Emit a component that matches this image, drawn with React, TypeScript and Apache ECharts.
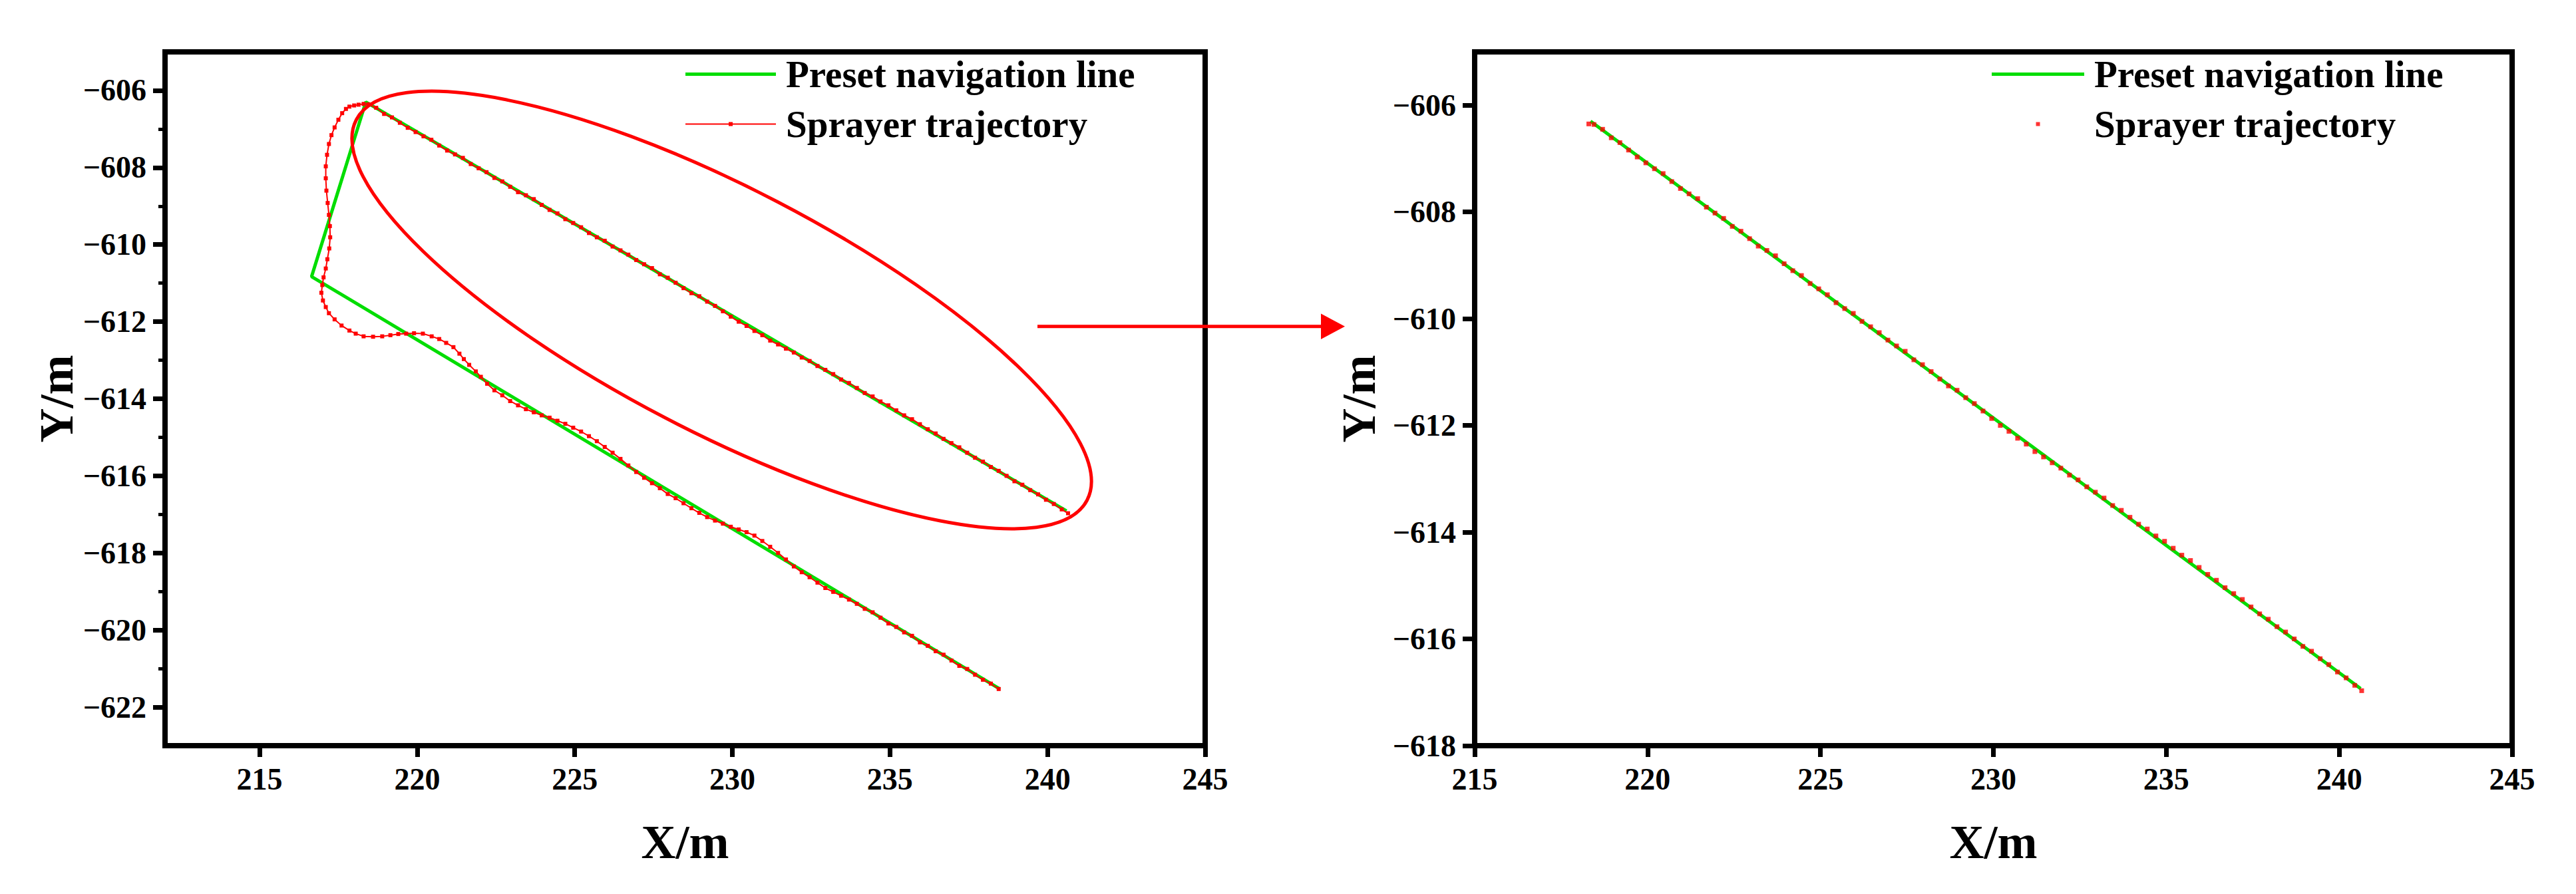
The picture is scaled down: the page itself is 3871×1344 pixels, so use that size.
import React, { useEffect, useRef } from 'react';
import * as echarts from 'echarts';

// ---------- data ----------
// Preset navigation line (left panel)
const navX = [238.49, 216.65, 218.37, 240.60];
const navY = [-621.53, -610.83, -606.30, -616.91];
// Preset navigation line (right, zoomed panel)
const zoomNavX = [218.35, 240.62];
const zoomNavY = [-606.30, -616.93];

// Sprayer trajectory: lower straight pass
const lowerX = [238.45, 238.20, 237.95, 237.70, 237.45, 237.20, 236.95, 236.70, 236.45, 236.20, 235.95, 235.70, 235.45, 235.20, 234.95, 234.70, 234.45, 234.20, 233.95, 233.70, 233.45, 233.20, 232.95, 232.70, 232.45, 232.20, 231.95, 231.70, 231.45, 231.20, 230.95, 230.70, 230.45, 230.20, 229.95, 229.70, 229.45, 229.20, 228.95, 228.70, 228.45, 228.20, 227.95, 227.70, 227.45, 227.20, 226.95, 226.70, 226.45, 226.20, 225.95, 225.70, 225.45, 225.20, 224.95, 224.70, 224.45, 224.20, 223.95, 223.70, 223.45, 223.20, 222.95, 222.70];
const lowerY = [-621.53, -621.39, -621.29, -621.16, -621.01, -620.93, -620.79, -620.64, -620.55, -620.41, -620.32, -620.15, -620.06, -619.92, -619.83, -619.68, -619.54, -619.45, -619.32, -619.21, -619.11, -619.01, -618.91, -618.77, -618.63, -618.50, -618.35, -618.17, -618.00, -617.84, -617.69, -617.55, -617.46, -617.39, -617.32, -617.24, -617.16, -617.07, -616.96, -616.84, -616.71, -616.58, -616.47, -616.32, -616.19, -616.05, -615.90, -615.73, -615.56, -615.40, -615.25, -615.10, -614.97, -614.85, -614.75, -614.65, -614.57, -614.49, -614.43, -614.35, -614.27, -614.17, -614.06, -613.91];

// Sprayer trajectory: turning section
const turnX = [222.45, 222.22, 222.02, 221.86, 221.65, 221.48, 221.34, 221.15, 220.92, 220.70, 220.46, 220.18, 219.90, 219.65, 219.40, 219.15, 218.89, 218.60, 218.30, 218.05, 217.85, 217.60, 217.38, 217.20, 217.10, 217.01, 216.96, 216.99, 217.03, 217.10, 217.15, 217.21, 217.24, 217.23, 217.20, 217.16, 217.12, 217.10, 217.10, 217.14, 217.20, 217.28, 217.38, 217.50, 217.62, 217.74, 217.85, 218.00, 218.14];
const turnY = [-613.78, -613.61, -613.43, -613.29, -613.12, -612.97, -612.83, -612.66, -612.55, -612.45, -612.38, -612.31, -612.30, -612.31, -612.32, -612.35, -612.38, -612.39, -612.38, -612.31, -612.23, -612.10, -611.94, -611.78, -611.62, -611.45, -611.25, -611.05, -610.85, -610.62, -610.38, -610.10, -609.81, -609.52, -609.23, -608.92, -608.60, -608.28, -607.97, -607.67, -607.39, -607.16, -606.96, -606.76, -606.59, -606.48, -606.42, -606.39, -606.37];

// Sprayer trajectory: upper straight pass (also the zoomed panel)
const upperX = [218.30, 218.45, 218.70, 218.95, 219.20, 219.45, 219.70, 219.95, 220.20, 220.45, 220.70, 220.95, 221.20, 221.45, 221.70, 221.95, 222.20, 222.45, 222.70, 222.95, 223.20, 223.45, 223.70, 223.95, 224.20, 224.45, 224.70, 224.95, 225.20, 225.45, 225.70, 225.95, 226.20, 226.45, 226.70, 226.95, 227.20, 227.45, 227.70, 227.95, 228.20, 228.45, 228.70, 228.95, 229.20, 229.45, 229.70, 229.95, 230.20, 230.45, 230.70, 230.95, 231.20, 231.45, 231.70, 231.95, 232.20, 232.45, 232.70, 232.95, 233.20, 233.45, 233.70, 233.95, 234.20, 234.45, 234.70, 234.95, 235.20, 235.45, 235.70, 235.95, 236.20, 236.45, 236.70, 236.95, 237.20, 237.45, 237.70, 237.95, 238.20, 238.45, 238.70, 238.95, 239.20, 239.45, 239.70, 239.95, 240.20, 240.45, 240.65];
const upperY = [-606.35, -606.36, -606.45, -606.61, -606.70, -606.84, -606.97, -607.08, -607.19, -607.28, -607.43, -607.56, -607.66, -607.75, -607.91, -608.02, -608.12, -608.27, -608.36, -608.50, -608.64, -608.72, -608.82, -608.97, -609.10, -609.19, -609.34, -609.44, -609.55, -609.70, -609.81, -609.90, -610.05, -610.15, -610.26, -610.40, -610.51, -610.61, -610.77, -610.86, -610.99, -611.13, -611.26, -611.34, -611.48, -611.59, -611.73, -611.87, -612.00, -612.11, -612.24, -612.35, -612.49, -612.59, -612.70, -612.80, -612.93, -613.02, -613.15, -613.25, -613.36, -613.50, -613.59, -613.72, -613.85, -613.94, -614.07, -614.17, -614.30, -614.43, -614.53, -614.66, -614.79, -614.90, -615.04, -615.15, -615.26, -615.40, -615.53, -615.63, -615.77, -615.87, -616.00, -616.14, -616.23, -616.37, -616.48, -616.62, -616.73, -616.87, -616.97];

// Axis ticks
const leftXTicks = [215, 220, 225, 230, 235, 240, 245];
const leftYTicks = [-622, -620, -618, -616, -614, -612, -610, -608, -606];
const leftYMinor = [-621, -619, -617, -615, -613, -611, -609, -607];
const rightXTicks = [215, 220, 225, 230, 235, 240, 245];
const rightYTicks = [-618, -616, -614, -612, -610, -608, -606];

const legendText: Record<string, string> = {
  nav: 'Preset navigation line',
  traj: 'Sprayer trajectory',
  zoomNav: 'Preset navigation line',
  zoomTraj: 'Sprayer trajectory',
};

// ---------- helpers ----------
const zip = (xs: number[], ys: number[]) => {
  const n = Math.min(xs.length, ys.length);
  const out: number[][] = [];
  for (let i = 0; i < n; i++) out.push([xs[i], ys[i]]);
  return out;
};

const FONT = "'Liberation Serif', 'Times New Roman', Times, serif";
const GREEN = '#00dd00';
const RED = '#ff0000';
const fmt = (v: number) => String(v).replace('-', '\u2212');

const labelStyle = {
  fontFamily: FONT,
  fontWeight: 'bold' as const,
  fontSize: 46,
  lineHeight: 46,
  color: '#000',
};
const nameStyle = {
  fontFamily: FONT,
  fontWeight: 'bold' as const,
  fontSize: 72,
  lineHeight: 72,
  color: '#000',
};

function xAxisCfg(gridIndex: number, min: number, max: number, ticks: number[]) {
  return {
    type: 'value',
    gridIndex,
    min,
    max,
    position: 'bottom',
    name: 'X/m',
    nameLocation: 'middle',
    nameGap: 109,
    nameTextStyle: nameStyle,
    axisLine: { show: true, onZero: false, lineStyle: { color: '#000', width: 8 } },
    axisTick: { show: true, inside: false, length: 17, lineStyle: { color: '#000', width: 7 }, customValues: ticks },
    axisLabel: { show: true, margin: 27, ...labelStyle, customValues: ticks, formatter: fmt },
    splitLine: { show: false },
  };
}

function yAxisCfg(gridIndex: number, min: number, max: number, ticks: number[], gap: number) {
  return {
    type: 'value',
    gridIndex,
    min,
    max,
    position: 'left',
    name: 'Y/m',
    nameLocation: 'middle',
    nameGap: gap,
    nameTextStyle: nameStyle,
    axisLine: { show: true, onZero: false, lineStyle: { color: '#000', width: 8 } },
    axisTick: { show: true, inside: false, length: 18, lineStyle: { color: '#000', width: 7 }, customValues: ticks },
    axisLabel: { show: true, margin: 28, ...labelStyle, customValues: ticks, formatter: fmt },
    splitLine: { show: false },
  };
}

const legendTextStyle = {
  fontFamily: FONT,
  fontWeight: 'bold' as const,
  fontSize: 57,
  lineHeight: 57,
  color: '#000',
  padding: [0, 0, 0, 10],
};

// legend icons (thick green band, thin red line with a marker, single red dot)
const iconNavLeft = 'path://M0,0.5h136v5h-136z';
const iconTrajLeft = 'path://M0,2h136v2h-136zM65,0h6v6h-6z';
const iconNavRight = 'path://M0,0.5h139v5h-139z';
const iconTrajRight = 'path://M0,0h6v6h-6z';

export default function App() {
  const ref = useRef<HTMLDivElement>(null);

  useEffect(() => {
    if (!ref.current) return;
    const chart = echarts.init(ref.current, null, { renderer: 'svg' });

    const trajectory = [...zip(lowerX, lowerY), ...zip(turnX, turnY), ...zip(upperX, upperY)];

    const option: any = {
      animation: false,
      backgroundColor: '#ffffff',
      grid: [
        { left: 248, top: 78, width: 1563, height: 1043, show: true, borderColor: '#000', borderWidth: 8, backgroundColor: 'transparent' },
        { left: 2216, top: 78, width: 1559, height: 1043, show: true, borderColor: '#000', borderWidth: 8, backgroundColor: 'transparent' },
      ],
      xAxis: [
        xAxisCfg(0, 212, 245, leftXTicks),
        xAxisCfg(1, 215, 245, rightXTicks),
      ],
      yAxis: [
        yAxisCfg(0, -623, -605, leftYTicks, 124),
        {
          type: 'value',
          gridIndex: 0,
          min: -623,
          max: -605,
          position: 'left',
          axisLine: { show: false },
          axisLabel: { show: false },
          splitLine: { show: false },
          axisTick: { show: true, inside: false, length: 10, lineStyle: { color: '#000', width: 5 }, customValues: leftYMinor },
        },
        yAxisCfg(1, -618, -605, rightYTicks, 138),
      ],
      legend: [
        {
          orient: 'vertical',
          left: 1030,
          top: 83,
          padding: 0,
          itemWidth: 136,
          itemHeight: 6,
          itemGap: 18,
          selectedMode: false,
          data: [
            { name: 'nav', icon: iconNavLeft, itemStyle: { color: GREEN, borderWidth: 0 } },
            { name: 'traj', icon: iconTrajLeft, itemStyle: { color: RED, borderWidth: 0 } },
          ],
          formatter: (n: string) => legendText[n] || n,
          textStyle: legendTextStyle,
        },
        {
          orient: 'vertical',
          left: 2993,
          top: 83,
          padding: 0,
          itemWidth: 139,
          itemHeight: 6,
          itemGap: 18,
          selectedMode: false,
          data: [
            { name: 'zoomNav', icon: iconNavRight, itemStyle: { color: GREEN, borderWidth: 0 } },
            { name: 'zoomTraj', icon: iconTrajRight, itemStyle: { color: RED, borderWidth: 0 } },
          ],
          formatter: (n: string) => legendText[n] || n,
          textStyle: legendTextStyle,
        },
      ],
      series: [
        {
          name: 'nav',
          type: 'line',
          xAxisIndex: 0,
          yAxisIndex: 0,
          data: zip(navX, navY),
          symbol: 'none',
          color: GREEN,
          lineStyle: { color: GREEN, width: 5 },
          z: 2,
        },
        {
          name: 'traj',
          type: 'line',
          xAxisIndex: 0,
          yAxisIndex: 0,
          data: trajectory,
          symbol: 'rect',
          symbolSize: 6,
          showSymbol: true,
          color: RED,
          itemStyle: { color: RED },
          lineStyle: { color: RED, width: 2 },
          z: 3,
        },
        {
          name: 'zoomNav',
          type: 'line',
          xAxisIndex: 1,
          yAxisIndex: 2,
          data: zip(zoomNavX, zoomNavY),
          symbol: 'none',
          color: GREEN,
          lineStyle: { color: GREEN, width: 5 },
          z: 2,
        },
        {
          name: 'zoomTraj',
          type: 'scatter',
          xAxisIndex: 1,
          yAxisIndex: 2,
          data: zip(upperX, upperY),
          symbol: 'rect',
          symbolSize: 7,
          color: RED,
          itemStyle: { color: RED },
          z: 3,
        },
      ],
      graphic: [
        {
          type: 'ellipse',
          x: 1084.5,
          y: 466,
          rotation: -0.48,
          shape: { cx: 0, cy: 0, rx: 619, ry: 183 },
          style: { fill: 'none', stroke: RED, lineWidth: 5 },
          z: 10,
        },
        {
          type: 'line',
          shape: { x1: 1559, y1: 490.7, x2: 1990, y2: 490.7 },
          style: { stroke: RED, lineWidth: 5 },
          z: 10,
        },
        {
          type: 'polygon',
          shape: { points: [[1985, 471.5], [2021, 490.7], [1985, 510]] },
          style: { fill: RED },
          z: 10,
        },
      ],
    };

    chart.setOption(option);
    return () => chart.dispose();
  }, []);

  return (
    <div
      ref={ref}
      style={{ position: 'fixed', left: 0, top: 0, width: 3871, height: 1344, background: '#fff' }}
    />
  );
}
